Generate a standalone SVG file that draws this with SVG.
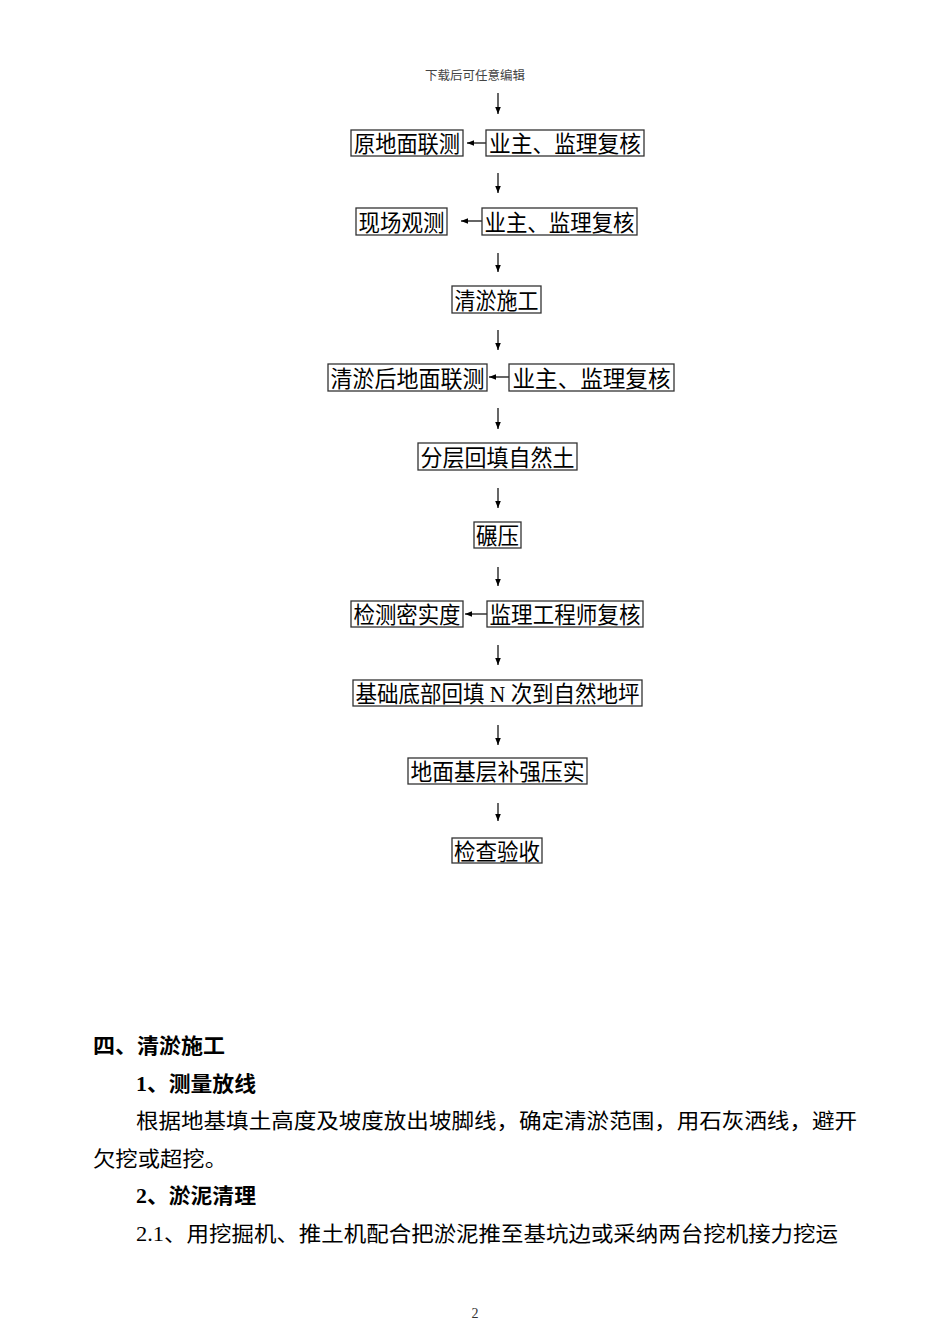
<svg xmlns="http://www.w3.org/2000/svg" width="950" height="1344" viewBox="0 0 950 1344">
<style>
.bx rect{fill:#fff;stroke:#333;stroke-width:1.3}
.bx text{font-family:"Liberation Serif","Noto Sans CJK SC",serif;font-size:22.5px;fill:#000;text-anchor:middle}
.cn line{stroke:#000;stroke-width:1.2;marker-end:url(#ah)}
.tx{font-family:"Liberation Serif","Noto Sans CJK SC",serif;font-size:21px;fill:#000}
.hd{font-family:"Liberation Serif","Noto Sans CJK SC",serif;font-size:21px;font-weight:bold;fill:#000}
</style>
<defs>
<marker id="ah" viewBox="0 0 10 10" refX="10" refY="5" markerWidth="7" markerHeight="7" markerUnits="userSpaceOnUse" orient="auto">
<path d="M0,1 L10,5 L0,9 Z" fill="#000"/>
</marker>
</defs>
<rect width="950" height="1344" fill="#fff"/>
<text x="475" y="80" text-anchor="middle" font-family="'Noto Sans CJK SC',sans-serif" font-size="12.5" fill="#444">下载后可任意编辑</text>

<g class="cn" id="connectors">
<line x1="498" y1="93" x2="498" y2="114"/>
<line x1="498" y1="173" x2="498" y2="193"/>
<line x1="498" y1="253" x2="498" y2="272"/>
<line x1="498" y1="330" x2="498" y2="350"/>
<line x1="498" y1="408" x2="498" y2="429"/>
<line x1="498" y1="488" x2="498" y2="508"/>
<line x1="498" y1="567" x2="498" y2="586"/>
<line x1="498" y1="645" x2="498" y2="665"/>
<line x1="498" y1="725" x2="498" y2="745"/>
<line x1="498" y1="803" x2="498" y2="821"/>
<line x1="486" y1="143" x2="467" y2="143"/>
<line x1="482" y1="221" x2="461" y2="221"/>
<line x1="509" y1="377" x2="489" y2="377"/>
<line x1="487" y1="614" x2="465" y2="614"/>
</g>

<g class="bx" id="n1"><rect x="351" y="130" width="112" height="26"/><text x="407" y="152" textLength="106" lengthAdjust="spacingAndGlyphs">原地面联测</text></g>
<g class="bx" id="n1r"><rect x="486" y="130" width="158" height="26"/><text x="565" y="152" textLength="152" lengthAdjust="spacingAndGlyphs">业主、监理复核</text></g>
<g class="bx" id="n2"><rect x="356" y="208" width="91" height="27"/><text x="401.5" y="230.5" textLength="86" lengthAdjust="spacingAndGlyphs">现场观测</text></g>
<g class="bx" id="n2r"><rect x="482" y="208" width="155" height="27"/><text x="559.5" y="230.5" textLength="150" lengthAdjust="spacingAndGlyphs">业主、监理复核</text></g>
<g class="bx" id="n3"><rect x="452" y="286" width="89" height="27"/><text x="496.5" y="308.5" textLength="84" lengthAdjust="spacingAndGlyphs">清淤施工</text></g>
<g class="bx" id="n4"><rect x="328" y="364" width="159" height="27"/><text x="407.5" y="386.5" textLength="154" lengthAdjust="spacingAndGlyphs">清淤后地面联测</text></g>
<g class="bx" id="n4r"><rect x="509" y="364" width="165" height="27"/><text x="591.5" y="386.5" textLength="158" lengthAdjust="spacingAndGlyphs">业主、监理复核</text></g>
<g class="bx" id="n5"><rect x="418" y="443" width="159" height="27"/><text x="497.5" y="465.5" textLength="154" lengthAdjust="spacingAndGlyphs">分层回填自然土</text></g>
<g class="bx" id="n6"><rect x="474" y="522" width="47" height="26"/><text x="497.5" y="544" textLength="43" lengthAdjust="spacingAndGlyphs">碾压</text></g>
<g class="bx" id="n7"><rect x="351" y="601" width="112" height="26"/><text x="407" y="623" textLength="107" lengthAdjust="spacingAndGlyphs">检测密实度</text></g>
<g class="bx" id="n7r"><rect x="487" y="601" width="156" height="26"/><text x="565" y="623" textLength="151" lengthAdjust="spacingAndGlyphs">监理工程师复核</text></g>
<g class="bx" id="n8"><rect x="353" y="680" width="289" height="26"/><text x="497.5" y="702" textLength="284" lengthAdjust="spacingAndGlyphs">基础底部回填 N 次到自然地坪</text></g>
<g class="bx" id="n9"><rect x="408" y="758" width="179" height="26"/><text x="497.5" y="780" textLength="174" lengthAdjust="spacingAndGlyphs">地面基层补强压实</text></g>
<g class="bx" id="n10"><rect x="452" y="838" width="90" height="25"/><text x="497" y="859.5" textLength="86" lengthAdjust="spacingAndGlyphs">检查验收</text></g>

<text class="hd" x="93" y="1053" textLength="132" lengthAdjust="spacingAndGlyphs">四、清淤施工</text>
<text class="hd" x="136" y="1091" textLength="120" lengthAdjust="spacingAndGlyphs">1、测量放线</text>
<text class="tx" x="136" y="1128" textLength="721" lengthAdjust="spacingAndGlyphs">根据地基填土高度及坡度放出坡脚线，确定清淤范围，用石灰洒线，避开</text>
<text class="tx" x="93" y="1166" textLength="134" lengthAdjust="spacingAndGlyphs">欠挖或超挖。</text>
<text class="hd" x="136" y="1203" textLength="120" lengthAdjust="spacingAndGlyphs">2、淤泥清理</text>
<text class="tx" x="136" y="1241" textLength="702" lengthAdjust="spacingAndGlyphs">2.1、用挖掘机、推土机配合把淤泥推至基坑边或采纳两台挖机接力挖运</text>
<text x="475" y="1318" text-anchor="middle" font-family="'Liberation Serif',serif" font-size="14" fill="#333">2</text>
</svg>
